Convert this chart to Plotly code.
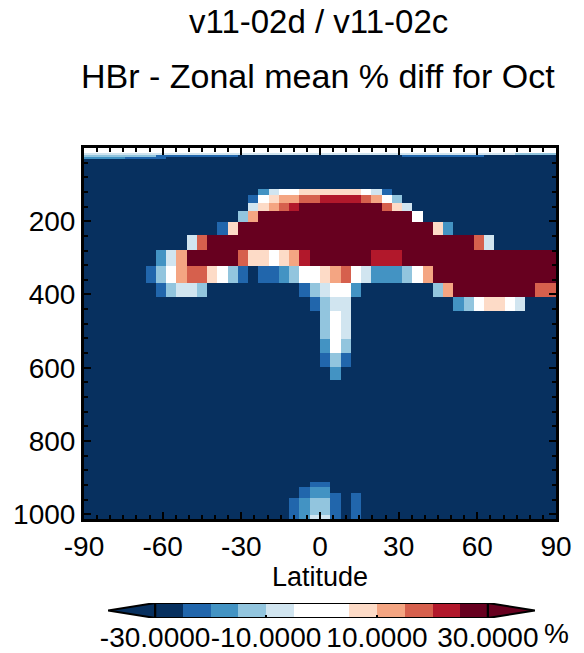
import plotly.graph_objects as go
import numpy as np

# ---------------- data ----------------
# latitude cell edges (46 equal cells from -90 to 90)
lat_edges = list(np.linspace(-90, 90, 47))

# pressure cell edges (hPa), top to bottom
pressure_edges = [0, 13, 18, 24, 29, 112, 128, 149, 171, 201, 238, 278, 322, 368,
                  406, 445, 483, 522, 560, 598, 634, 911, 927, 941, 955, 1002, 1013.25]

# value (% diff) represented by each colour class
class_values = {'N': -35.0, '1': -22.5, '2': -17.5, '3': -12.5, '4': -7.5, 'w': 0.0,
                '5': 7.5, '6': 12.5, '7': 17.5, '8': 22.5, 'R': 35.0}

# each row: runs of (first lat column, last lat column, class); default 'N'
row_runs = [
    [(0, 45, 'w')],
    [(0, 41, '4'), (42, 45, '3')],
    [(0, 6, '3'), (7, 14, '1'), (31, 38, '1')],
    [(0, 3, '2'), (4, 7, '1')],
    [],
    [(17, 17, '2'), (18, 18, '4'), (19, 20, 'w'), (21, 26, '5'), (27, 27, 'w'), (28, 28, '4'), (29, 29, '1')],
    [(16, 16, '1'), (17, 17, 'w'), (18, 18, '5'), (19, 20, '6'), (21, 22, '7'), (23, 26, '8'), (27, 27, '7'),
     (28, 28, '6'), (29, 29, 'w'), (30, 30, '3')],
    [(16, 16, '4'), (17, 17, '5'), (18, 18, '6'), (19, 19, '7'), (20, 20, '8'), (21, 28, 'R'), (29, 29, '7'),
     (30, 30, '5'), (31, 31, '4')],
    [(15, 15, '3'), (16, 16, '6'), (17, 31, 'R'), (32, 32, 'w')],
    [(13, 13, '1'), (14, 14, '5'), (15, 33, 'R'), (34, 34, '5'), (35, 35, '2')],
    [(10, 10, '4'), (11, 11, '7'), (12, 37, 'R'), (38, 38, '7'), (39, 39, '4')],
    [(7, 7, '2'), (8, 8, '4'), (9, 9, '6'), (10, 14, 'R'), (15, 15, '7'), (16, 17, '5'), (18, 18, 'w'),
     (19, 19, '5'), (20, 20, '6'), (21, 21, '8'), (22, 27, 'R'), (28, 30, '8'), (31, 45, 'R')],
    [(6, 6, '1'), (7, 7, '3'), (8, 8, 'w'), (9, 9, '6'), (10, 11, '7'), (12, 12, '5'), (13, 13, 'w'),
     (14, 14, '3'), (15, 15, '1'), (17, 18, '1'), (19, 19, '2'), (20, 20, '3'), (21, 22, 'w'), (23, 23, '5'),
     (24, 24, '6'), (25, 25, '7'), (26, 26, 'w'), (27, 27, '4'), (28, 30, '2'), (31, 31, '3'), (32, 32, 'w'),
     (33, 33, '6'), (34, 45, 'R')],
    [(7, 7, '1'), (8, 8, '3'), (9, 10, '4'), (11, 11, '3'), (21, 21, '1'), (22, 22, '3'), (23, 23, '4'),
     (24, 25, 'w'), (26, 26, '2'), (34, 34, '3'), (35, 35, '6'), (36, 43, 'R'), (44, 45, '7')],
    [(22, 22, '1'), (23, 23, '3'), (24, 25, '4'), (36, 36, '2'), (37, 37, '3'), (38, 38, 'w'), (39, 40, '5'),
     (41, 41, 'w'), (42, 42, '4')],
    [(23, 23, '3'), (24, 24, 'w'), (25, 25, '4')],
    [(23, 23, '3'), (24, 24, 'w'), (25, 25, '4')],
    [(23, 23, '2'), (24, 24, 'w'), (25, 25, '3')],
    [(23, 23, '1'), (24, 24, '3'), (25, 25, '1')],
    [(24, 24, '2')],
    [],
    [(22, 23, '1')],
    [(21, 21, '1'), (22, 23, '2')],
    [(21, 21, '1'), (22, 23, '2'), (24, 24, '1'), (26, 26, '1')],
    [(20, 20, '1'), (21, 21, '2'), (22, 23, '3'), (24, 24, '1'), (26, 26, '1')],
    [(20, 20, '1'), (21, 21, '2'), (22, 23, '4'), (24, 24, '1'), (26, 26, '1')],
]

# colour bar levels
cbar_edges = [-30, -25, -20, -15, -10, -5, 0, 5, 10, 15, 20, 25, 30]
cbar_tickvals = [-30, -10, 10, 30]
cbar_ticktext = ['-30.0000', '-10.0000', '10.0000', '30.0000']

lat_ticks = [-90, -60, -30, 0, 30, 60, 90]
lat_ticktext = ['-90', '-60', '-30', '0', '30', '60', '90']
p_ticks = [200, 400, 600, 800, 1000]

title1 = 'v11-02d / v11-02c'
title2 = 'HBr - Zonal mean % diff for Oct'

# ---------------- build grid ----------------
ncol = len(lat_edges) - 1
z = []
for runs in row_runs:
    row = ['N'] * ncol
    for a, b, c in runs:
        for i in range(a, b + 1):
            row[i] = c
    z.append([class_values[c] for c in row])

# ---------------- colours ----------------
navy = '#07305f'
dred = '#67001f'
seg_colors = [navy, '#2166ac', '#4393c3', '#92c5de', '#d1e5f0', '#ffffff',
              '#fddbc7', '#f4a582', '#d6604d', '#b2182b', dred]
zmin, zmax = -40, 40
bounds = [-40, -25, -20, -15, -10, -5, 5, 10, 15, 20, 25, 40]
colorscale = []
for k, col in enumerate(seg_colors):
    f0 = (bounds[k] - zmin) / (zmax - zmin)
    f1 = (bounds[k + 1] - zmin) / (zmax - zmin)
    colorscale.append([f0, col])
    colorscale.append([f1, col])

# figure fills the whole 584x653 window (page body margin removed below)
W, H = 584, 653
def px_x(x):
    return x / W
def px_y(y):
    return (H - y) / H

FONT = 'Liberation Sans, Arial, sans-serif'

fig = go.Figure()
fig.add_trace(go.Heatmap(x=lat_edges, y=pressure_edges, z=z, colorscale=colorscale,
                         zmin=zmin, zmax=zmax, showscale=False, hoverinfo='skip',
                         xaxis='x', yaxis='y'))

cb_mid = [(cbar_edges[i] + cbar_edges[i + 1]) / 2 for i in range(len(cbar_edges) - 1)]
fig.add_trace(go.Heatmap(x=cbar_edges, y=[0, 1], z=[cb_mid], colorscale=colorscale,
                         zmin=zmin, zmax=zmax, showscale=False, hoverinfo='skip',
                         xaxis='x2', yaxis='y2'))

axis_common = dict(showline=True, linecolor='black', linewidth=3, mirror='ticks',
                   ticks='inside', ticklen=7, tickwidth=2, tickcolor='black',
                   showgrid=False, zeroline=False, automargin=False,
                   tickfont=dict(family=FONT, size=28, color='black'))

fig.update_layout(
    width=W, height=H, autosize=False,
    margin=dict(l=0, r=0, t=0, b=0, autoexpand=False),
    paper_bgcolor='white', plot_bgcolor='white',
    showlegend=False,
    xaxis=dict(domain=[px_x(84), px_x(556)], range=[-90, 90], tickvals=lat_ticks, ticktext=lat_ticktext,
               minor=dict(tickmode='linear', tick0=0, dtick=5, ticklen=4, ticks='inside',
                          tickcolor='black', tickwidth=2),
               title=dict(text='Latitude', font=dict(family=FONT, size=27, color='black'), standoff=2),
               anchor='y', **axis_common),
    yaxis=dict(domain=[px_y(519), px_y(148)], range=[1013.25, 0], tickvals=p_ticks,
               minor=dict(tickmode='linear', tick0=0, dtick=40, ticklen=4, ticks='inside',
                          tickcolor='black', tickwidth=2),
               anchor='x', **axis_common),
    xaxis2=dict(domain=[px_x(108), px_x(535)], range=[-38.5, 38.5], anchor='y2',
                tickvals=cbar_tickvals, ticktext=cbar_ticktext, tickangle=0, automargin=False,
                ticks='inside', ticklen=3, tickwidth=2, tickcolor='black',
                showline=False, showgrid=False, zeroline=False,
                tickfont=dict(family=FONT, size=28, color='black')),
    yaxis2=dict(domain=[px_y(618), px_y(603)], range=[0, 1], anchor='x2', automargin=False,
                showticklabels=False, ticks='', showline=False, showgrid=False, zeroline=False),
)

# colour bar outline and end arrows
fig.add_shape(type='path', xref='x2', yref='y2', path='M -30,0 L -38.5,0.5 L -30,1 Z',
              fillcolor=navy, line=dict(color='black', width=2))
fig.add_shape(type='path', xref='x2', yref='y2', path='M 30,0 L 38.5,0.5 L 30,1 Z',
              fillcolor=dred, line=dict(color='black', width=2))
fig.add_shape(type='rect', xref='x2', yref='y2', x0=-30, x1=30, y0=0, y1=1,
              line=dict(color='black', width=2), fillcolor='rgba(0,0,0,0)')

fig.add_annotation(text=title1, xref='paper', yref='paper', x=px_x(318), y=px_y(22),
                   showarrow=False, font=dict(family=FONT, size=33, color='black'),
                   xanchor='center', yanchor='middle')
fig.add_annotation(text=title2, xref='paper', yref='paper', x=px_x(318), y=px_y(76),
                   showarrow=False, font=dict(family=FONT, size=34, color='black'),
                   xanchor='center', yanchor='middle')
fig.add_annotation(text='%', xref='paper', yref='paper', x=px_x(556), y=px_y(633),
                   showarrow=False, font=dict(family=FONT, size=28, color='black'),
                   xanchor='center', yanchor='middle')

fig.write_html('out.html', config={'displayModeBar': False, 'staticPlot': True},
               post_script="document.body.style.margin='0';document.body.style.overflow='hidden';")
